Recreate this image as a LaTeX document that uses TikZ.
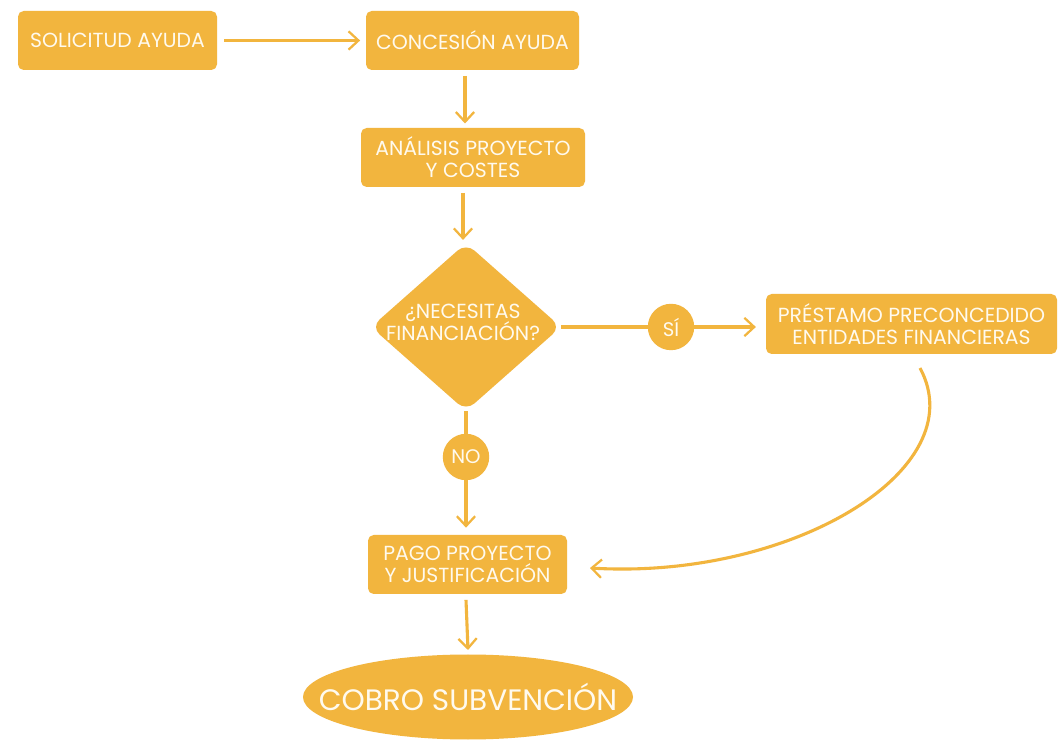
\documentclass[tikz,border=0pt]{standalone}
\usepackage{fontspec}
\setmainfont{Poppins}
\usetikzlibrary{shapes.geometric,arrows.meta}
\definecolor{gold}{RGB}{242,181,62}
\definecolor{cream}{RGB}{255,250,238}
\tikzset{
  box/.style={fill=gold, rounded corners=4pt, text=cream, align=center, font=\fontsize{14.5}{15.8}\selectfont, inner sep=0pt},
  decision/.style={diamond, fill=gold, rounded corners=8pt, inner sep=0pt},
  label/.style={text=cream, align=center, font=\fontsize{14.5}{15.8}\selectfont, inner sep=0pt},
  tag/.style={circle, fill=gold, text=cream, font=\fontsize{14}{16}\selectfont, minimum size=33pt, inner sep=0pt},
  goal/.style={ellipse, fill=gold, inner sep=0pt},
  goaltext/.style={text=cream, font=\fontsize{21}{24}\selectfont, inner sep=0pt},
  flow/.style={draw=gold, line width=2.2pt, -{Straight Barb[length=7pt,width=13pt,line width=1.6pt]}},
  plain/.style={draw=gold, line width=2.2pt}
}
\begin{document}
\begin{tikzpicture}[x=0.025cm,y=-0.025cm]
\useasboundingbox[fill=white] (0,0) rectangle (1060,740);
\node[box, minimum width=199*0.025cm, minimum height=59*0.025cm] (sol) at (117.5,40.5) {SOLICITUD AYUDA};
\node[box, minimum width=213*0.025cm, minimum height=59*0.025cm] (con) at (472.5,40.5) {CONCESIÓN AYUDA};
\node[box, minimum width=224*0.025cm, minimum height=59*0.025cm] (ana) at (473,157.5) {ANÁLISIS PROYECTO\\Y COSTES};
\node[decision, minimum width=190*0.025cm, minimum height=168*0.025cm] (dec) at (466,327) {};
\node[label] (dectext) at (463,322) {¿NECESITAS\\FINANCIACIÓN?};
\node[tag] (si) at (671,327) {SÍ};
\node[box, minimum width=291*0.025cm, minimum height=60*0.025cm] (pre) at (911.5,324) {PRÉSTAMO PRECONCEDIDO\\ENTIDADES FINANCIERAS};
\node[tag] (no) at (466,457) {NO};
\node[box, minimum width=199*0.025cm, minimum height=59*0.025cm] (pag) at (467.5,564.5) {PAGO PROYECTO\\Y JUSTIFICACIÓN};
\node[goal, minimum width=330*0.025cm, minimum height=85*0.025cm] (cob) at (468,697) {};
\node[goaltext] (cobtext) at (468,697) {COBRO SUBVENCIÓN};
\coordinate (preout) at (920,368);
\coordinate (pagin) at (590,568);
\draw[flow] ([xshift=5pt]sol.east) -- ([xshift=-4pt]con.west);
\draw[flow] ([xshift=-7.5*0.025cm,yshift=-4pt]con.south) -- ([xshift=-8*0.025cm,yshift=3pt]ana.north);
\draw[flow] ([xshift=-10*0.025cm,yshift=-4pt]ana.south) -- ([xshift=-3*0.025cm,yshift=2pt]dec.north);
\draw[plain] (dec.east) -- (si.west);
\draw[flow] (si.east) -- ([xshift=-7pt]pre.west |- si.east);
\draw[plain] (dec.south) -- (no.north);
\draw[flow] (no.south) -- ([xshift=-1.5*0.025cm,yshift=5pt]pag.north);
\draw[flow] ([xshift=-1.5*0.025cm,yshift=-4pt]pag.south) -- ([yshift=3pt]cob.north);
\draw[flow] (preout) .. controls (975,470) and (790,580) .. (pagin);
\end{tikzpicture}
\end{document}
